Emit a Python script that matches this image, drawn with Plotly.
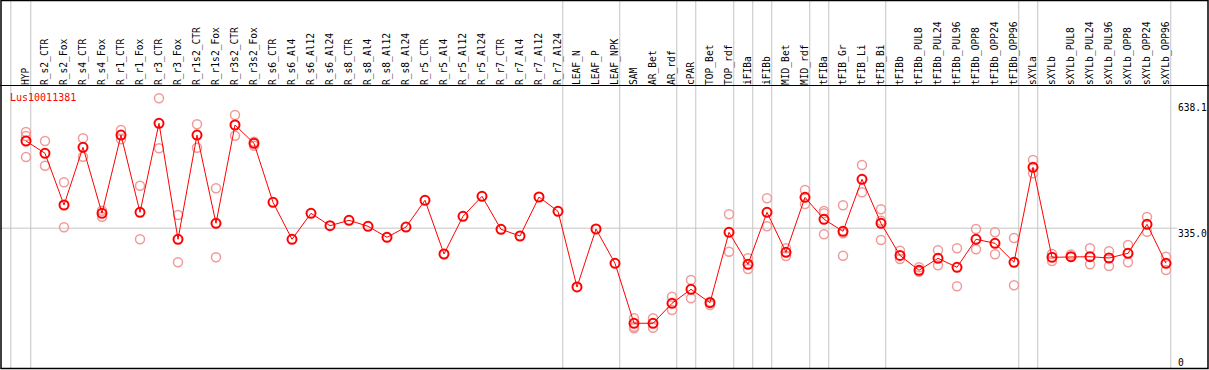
import plotly.graph_objects as go

# ---------------- data ----------------
gene_id = "Lus10011381"

categories = [
    "HYP", "R_s2_CTR", "R_s2_Fox", "R_s4_CTR", "R_s4_Fox", "R_r1_CTR", "R_r1_Fox",
    "R_r3_CTR", "R_r3_Fox", "R_r1s2_CTR", "R_r1s2_Fox", "R_r3s2_CTR", "R_r3s2_Fox",
    "R_s6_CTR", "R_s6_Al4", "R_s6_Al12", "R_s6_Al24", "R_s8_CTR", "R_s8_Al4",
    "R_s8_Al12", "R_s8_Al24", "R_r5_CTR", "R_r5_Al4", "R_r5_Al12", "R_r5_Al24",
    "R_r7_CTR", "R_r7_Al4", "R_r7_Al12", "R_r7_Al24", "LEAF_N", "LEAF_P", "LEAF_NPK",
    "SAM", "AR_Bet", "AR_rdf", "cPAR", "TOP_Bet", "TOP_rdf", "iFIBa", "iFIBb",
    "MID_Bet", "MID_rdf", "tFIBa", "tFIB_Gr", "tFIB_Li", "tFIB_Bi", "tFIBb",
    "tFIBb_PUL8", "tFIBb_PUL24", "tFIBb_PUL96", "tFIBb_OPP8", "tFIBb_OPP24",
    "tFIBb_OPP96", "sXYLa", "sXYLb", "sXYLb_PUL8", "sXYLb_PUL24", "sXYLb_PUL96",
    "sXYLb_OPP8", "sXYLb_OPP24", "sXYLb_OPP96",
]

mean_values = [
    545.4, 515.7, 390.9, 530.2, 370.9, 559.8, 373.3, 588.1, 308.2, 559.8, 346.8,
    584.0, 539.8, 397.4, 308.2, 370.9, 341.0, 354.0, 339.5, 313.0, 337.8, 402.3,
    272.7, 363.7, 411.9, 332.3, 316.1, 410.2, 375.7, 193.1, 333.0, 250.2,
    105.5, 105.5, 153.7, 187.5, 155.2, 325.0, 247.8, 373.3, 276.8, 409.5,
    356.4, 327.5, 452.9, 346.8, 269.1, 233.3, 262.3, 240.6, 308.2, 298.5,
    252.7, 481.9, 264.7, 266.2, 266.2, 263.0, 274.4, 344.4, 250.2,
]

replicate_values = [
    [567.1, 557.4, 506.8], [545.4, 485.8], [445.7, 337.1], [551.9, 507.5],
    [377.2, 362.7], [571.9, 549.5], [437.5, 308.2], [648.4, 527.8],
    [366.8, 252.7], [585.7, 529.2], [431.2, 264.7], [608.1, 558.2],
    [543.7, 534.0], [], [], [], [], [], [], [], [], [], [], [], [], [], [], [], [],
    [], [], [],
    [117.5, 97.3, 93.4], [117.5, 94.8], [169.6, 137.5], [209.9, 165.8],
    [157.6, 149.6], [368.5, 278.2], [262.3, 236.5], [407.1, 339.5],
    [286.4, 267.9], [427.1, 393.3], [376.4, 370.9, 320.2], [390.2, 322.6, 268.6],
    [487.5, 421.6], [380.6, 353.0, 306.5], [280.6, 260.6], [240.6, 230.0],
    [281.6, 245.4], [286.4, 194.7], [333.0, 284.0], [325.0, 272.0],
    [311.3, 197.2], [499.5, 467.4], [272.7, 255.8], [271.5, 265.4],
    [286.4, 247.8], [279.2, 243.7], [294.4, 252.7], [362.0, 326.5],
    [266.2, 234.1],
]

# last category of each group (group separators)
group_ends = ["HYP", "R_r7_Al24", "LEAF_NPK", "AR_rdf", "cPAR", "TOP_rdf", "iFIBa",
              "iFIBb", "MID_rdf", "tFIBa", "tFIB_Bi", "tFIBb_OPP96", "sXYLa",
              "sXYLb_OPP96"]

axis_max = 638.1
ref_value = 335.0
axis_min = 0

# ---------------- layout geometry ----------------
W, H = 1209, 370
TOP, BOTTOM = 86, 2
plot_h = H - TOP - BOTTOM
x0_px, step_px = 26.0, 19.0
px_per_unit = 0.4144
zero_px = 367.0  # pixel row of value 0


def yp(py):  # pixel row -> paper y
    return (H - BOTTOM - py) / plot_h


x_range = [-x0_px / step_px, (W - x0_px) / step_px]
y_range = [(zero_px - (H - BOTTOM)) / px_per_unit, (zero_px - TOP) / px_per_unit]

rep_x, rep_y = [], []
for c, reps in zip(categories, replicate_values):
    for v in reps:
        rep_x.append(c)
        rep_y.append(v)

fig = go.Figure()
fig.add_trace(go.Scatter(
    x=rep_x, y=rep_y, mode="markers",
    marker=dict(symbol="circle-open", size=9, color="#f09a9a",
                line=dict(width=1.5, color="#f09a9a")),
    hoverinfo="skip", showlegend=False, cliponaxis=False,
))
fig.add_trace(go.Scatter(
    x=categories, y=mean_values, mode="lines+markers",
    line=dict(color="#ff0000", width=1),
    marker=dict(symbol="circle-open", size=9, color="#ff0000",
                line=dict(width=2, color="#ff0000")),
    showlegend=False, cliponaxis=False,
))

shapes = []
grey = "#c4c4c4"
# vertical group separators (start + after each group)
sep_idx = [-0.8] + [categories.index(c) + 0.25 for c in group_ends]
for xi in sep_idx:
    shapes.append(dict(type="line", xref="x", yref="paper", x0=xi, x1=xi,
                       y0=yp(368), y1=yp(0), line=dict(color=grey, width=1),
                       layer="below"))
# horizontal reference line
shapes.append(dict(type="line", xref="paper", yref="y", x0=0, x1=1177 / W,
                   y0=ref_value, y1=ref_value, line=dict(color=grey, width=1),
                   layer="below"))
# header separator
shapes.append(dict(type="line", xref="paper", yref="paper", x0=0, x1=1,
                   y0=yp(85.5), y1=yp(85.5), line=dict(color="black", width=1)))
# outer frame
shapes.append(dict(type="rect", xref="paper", yref="paper",
                   x0=1 / W, x1=1208 / W, y0=yp(368.5), y1=yp(0.5),
                   line=dict(color="black", width=1.5), fillcolor="rgba(0,0,0,0)"))

mono = "DejaVu Sans Mono"
annotations = [
    dict(text=gene_id, xref="paper", yref="paper", x=8 / W, y=yp(97),
         xanchor="left", yanchor="middle", showarrow=False,
         font=dict(family=mono, size=10, color="#ff0000")),
    dict(text=f"{axis_max:.1f}", xref="paper", yref="y", x=1176 / W, y=axis_max,
         xanchor="left", yanchor="top", showarrow=False, yshift=3,
         font=dict(family=mono, size=9.6, color="black")),
    dict(text=f"{ref_value:.1f}", xref="paper", yref="y", x=1176 / W, y=ref_value,
         xanchor="left", yanchor="top", showarrow=False, yshift=2,
         font=dict(family=mono, size=9.6, color="black")),
    dict(text=f"{axis_min}", xref="paper", yref="y", x=1176 / W, y=axis_min,
         xanchor="left", yanchor="bottom", showarrow=False, yshift=-3,
         font=dict(family=mono, size=9.6, color="black")),
]

fig.update_layout(
    width=W, height=H,
    margin=dict(l=0, r=0, t=TOP, b=BOTTOM, pad=0),
    paper_bgcolor="white", plot_bgcolor="white",
    shapes=shapes, annotations=annotations,
    xaxis=dict(type="category", categoryorder="array", categoryarray=categories,
               range=x_range, side="top", tickangle=-90, ticks="",
               tickfont=dict(family=mono, size=9.6, color="black"),
               showgrid=False, zeroline=False, showline=False, fixedrange=True),
    yaxis=dict(range=y_range, showticklabels=False, showgrid=False,
               zeroline=False, showline=False, fixedrange=True),
)

fig.write_html(
    "out.html",
    config={"displayModeBar": False},
    post_script="document.body.style.margin='0';document.body.style.padding='0';",
)
